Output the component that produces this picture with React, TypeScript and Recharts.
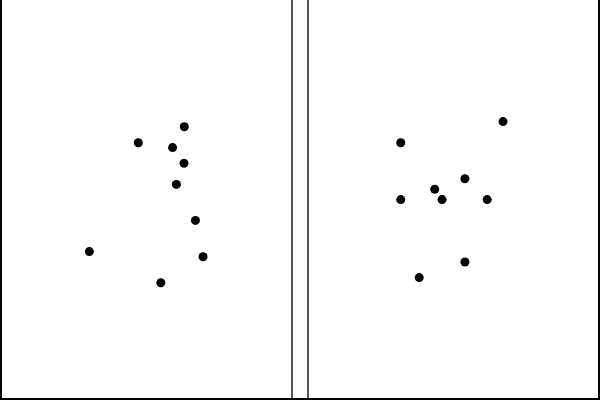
import { ScatterChart, Scatter, XAxis, YAxis, ZAxis } from "recharts";

// left panel points
const leftX = [6.29, 4.72, 5.89, 6.28, 6.02, 6.67, 3.05, 6.93, 5.49];
const leftY = [6.83, 6.43, 6.31, 5.92, 5.39, 4.49, 3.71, 3.58, 2.93];

// right panel points
const rightX = [6.69, 3.2, 5.39, 4.36, 3.2, 4.61, 6.15, 5.39, 3.83];
const rightY = [6.96, 6.43, 5.53, 5.27, 5.01, 5.01, 5.01, 3.45, 3.06];

const toPoints = (xs: number[], ys: number[]) =>
  xs.map((x, i) => ({ x, y: ys[i] }));

function Panel({ xs, ys }: { xs: number[]; ys: number[] }) {
  return (
    <ScatterChart width={293} height={400} margin={{ top: 0, right: 0, bottom: 0, left: 0 }}>
      <XAxis type="number" dataKey="x" domain={[0, 10]} hide />
      <YAxis type="number" dataKey="y" domain={[0, 10]} hide />
      <ZAxis range={[64, 64]} />
      <Scatter data={toPoints(xs, ys)} fill="#000" isAnimationActive={false} />
    </ScatterChart>
  );
}

export default function App() {
  const line = (style: React.CSSProperties) => (
    <div style={{ position: "absolute", ...style }} />
  );
  return (
    <div style={{ position: "absolute", left: 0, top: 0, width: 600, height: 400, background: "#fff" }}>
      <div style={{ position: "absolute", left: 0, top: 0 }}>
        <Panel xs={leftX} ys={leftY} />
      </div>
      <div style={{ position: "absolute", left: 307, top: 0 }}>
        <Panel xs={rightX} ys={rightY} />
      </div>
      {/* frames */}
      {line({ left: 0, top: 0, width: 2, height: 400, background: "#000" })}
      {line({ left: 291, top: 0, width: 2, height: 400, background: "#555" })}
      {line({ left: 307, top: 0, width: 2, height: 400, background: "#555" })}
      {line({ left: 598, top: 0, width: 2, height: 400, background: "#000" })}
      {line({ left: 0, top: 398, width: 600, height: 2, background: "#000" })}
    </div>
  );
}
